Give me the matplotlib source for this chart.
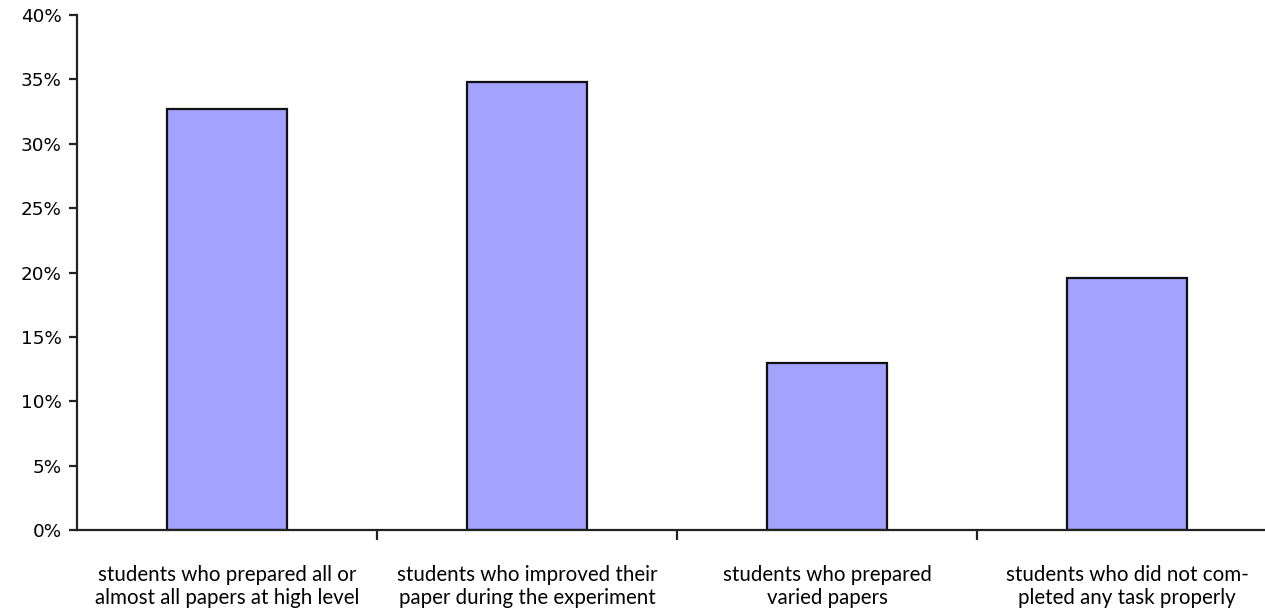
import matplotlib
matplotlib.use("Agg")
import matplotlib.pyplot as plt
from matplotlib.ticker import FixedLocator, FuncFormatter

categories = [
    "students who prepared all or\nalmost all papers at high level",
    "students who improved their\npaper during the experiment",
    "students who prepared\nvaried papers",
    "students who did not com-\npleted any task properly",
]
shares = [32.7, 34.8, 13.0, 19.6]
y_ticks = [0, 5, 10, 15, 20, 25, 30, 35, 40]

W, H = 1265, 609
fig = plt.figure(figsize=(W / 100, H / 100), dpi=100)
ax = fig.add_axes([77 / W, (H - 530) / H, 1200 / W, 515 / H])

x = list(range(len(categories)))
ax.bar(x, shares, width=0.4, color="#A3A3FF", edgecolor="#111111", linewidth=1.6)

ax.set_xlim(-0.5, len(categories) - 0.5)
ax.set_ylim(0, 40)

for side in ("top", "right"):
    ax.spines[side].set_visible(False)
for side in ("left", "bottom"):
    ax.spines[side].set_linewidth(1.6)
    ax.spines[side].set_color("#222222")

ax.yaxis.set_major_locator(FixedLocator(y_ticks))
ax.yaxis.set_major_formatter(FuncFormatter(lambda v, p: f"{v:.0f}%"))
ax.tick_params(axis="y", direction="out", length=6, width=1.6, color="#222222",
               labelsize=13.2, pad=5)
for lab in ax.get_yticklabels():
    lab.set_fontfamily("DejaVu Sans")

# category separators as major ticks, labels on minor ticks
ax.xaxis.set_major_locator(FixedLocator([i + 0.5 for i in x[:-1]]))
ax.xaxis.set_major_formatter(FuncFormatter(lambda v, p: ""))
ax.xaxis.set_minor_locator(FixedLocator(x))
ax.set_xticks(x, categories, minor=True)
ax.tick_params(axis="x", which="major", direction="out", length=7, width=1.6,
               color="#222222")
ax.tick_params(axis="x", which="minor", length=0, pad=25, labelsize=14.8)
for lab in ax.get_xticklabels(minor=True):
    lab.set_fontfamily("Lato")
    lab.set_linespacing(1.22)
    lab.set_verticalalignment("top")

fig.savefig("out.png", dpi=100)
